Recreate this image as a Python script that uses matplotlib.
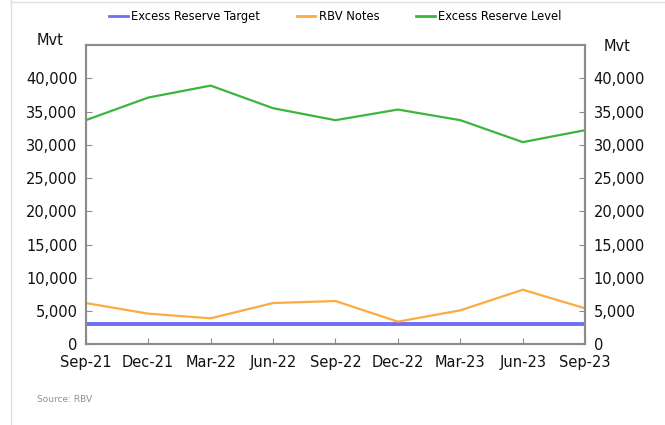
import matplotlib.pyplot as plt
from matplotlib.ticker import FuncFormatter

quarters = ['Sep-21', 'Dec-21', 'Mar-22', 'Jun-22', 'Sep-22',
            'Dec-22', 'Mar-23', 'Jun-23', 'Sep-23']
reserve_target = [3000, 3000, 3000, 3000, 3000, 3000, 3000, 3000, 3000]
rbv_notes = [6200, 4600, 3900, 6200, 6500, 3400, 5100, 8200, 5400]
reserve_level = [33700, 37100, 38900, 35500, 33700, 35300, 33700, 30400, 32200]

fig = plt.figure(figsize=(6.65, 4.25), dpi=100)
ax = fig.add_axes([0.129, 0.19, 0.751, 0.704])
x = range(len(quarters))

ax.plot(x, reserve_target, c='#6f6ff5', lw=2.8, label='Excess Reserve Target')
ax.plot(x, rbv_notes, c='#fbab3f', lw=1.6, label='RBV Notes')
ax.plot(x, reserve_level, c='#3db53d', lw=1.6, label='Excess Reserve Level')

ax.set_xlim(0, len(quarters) - 1)
ax.set_ylim(0, 45000)
ax.set_yticks(range(0, 45000, 5000))
ax.set_xticks(list(x))
ax.set_xticklabels(quarters)
fmt = FuncFormatter(lambda v, p: f'{int(v):,}')
ax.yaxis.set_major_formatter(fmt)

ax2 = ax.twinx()
ax2.set_ylim(0, 45000)
ax2.set_yticks(range(0, 45000, 5000))
ax2.yaxis.set_major_formatter(fmt)

for a in [ax, ax2]:
    for s in a.spines.values():
        s.set_color('#8c8c8c')
        s.set_linewidth(1.5)
    a.tick_params(direction='in', length=4, color='#8c8c8c', labelsize=10.5,
                  labelcolor='#111111', pad=6)
ax.tick_params(axis='x', pad=8)

fig.text(0.055, 0.895, 'Mvt', fontsize=10.5, color='#111111')
fig.text(0.908, 0.88, 'Mvt', fontsize=10.5, color='#111111')
fig.text(0.055, 0.055, 'Source: RBV', fontsize=6.5, color='#909090')

leg = ax.legend(loc='center', bbox_to_anchor=(0.5, 1.095), ncol=3, frameon=False,
                fontsize=8.3, handlelength=1.6, columnspacing=3.2, handletextpad=0.3)
for ln in leg.get_lines():
    ln.set_linewidth(2)

fig.add_artist(plt.Line2D([0.016, 0.016], [0, 1], color='#e0e0e0', lw=1))
fig.add_artist(plt.Line2D([0.016, 1], [0.995, 0.995], color='#e0e0e0', lw=1))

fig.savefig('out.png', dpi=100)
